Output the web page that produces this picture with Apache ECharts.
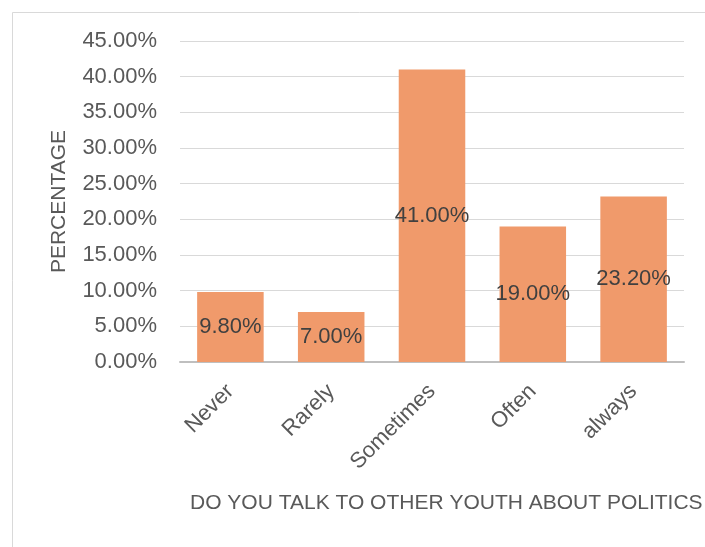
<!DOCTYPE html>
<html>
<head>
<meta charset="utf-8">
<script src="https://cdn.jsdelivr.net/npm/echarts@6/dist/echarts.min.js"></script>
<style>
html,body{margin:0;padding:0;background:#fff;}
#chart{width:705px;height:547px;}
</style>
</head>
<body>
<div id="chart"></div>
<script>
// Responses to "Do you talk to other youth about politics"
const categories = ['Never', 'Rarely', 'Sometimes', 'Often', 'always'];
const percentages = [9.8, 7.0, 41.0, 19.0, 23.2];
const yTicks = [0, 5, 10, 15, 20, 25, 30, 35, 40, 45];

const chart = echarts.init(document.getElementById('chart'));
const FONT = 'Liberation Sans';

chart.setOption({
  animation: false,
  backgroundColor: '#ffffff',
  textStyle: { fontFamily: FONT },
  graphic: [
    {
      type: 'rect',
      shape: { x: 12.5, y: 12.5, width: 720, height: 560 },
      style: { fill: 'none', stroke: '#d9d9d9', lineWidth: 1 }
    },
    {
      type: 'text',
      left: 190,
      top: 493,
      style: {
        text: 'DO YOU TALK TO OTHER YOUTH ABOUT POLITICS',
        fill: '#595959',
        font: '21px "Liberation Sans"'
      }
    }
  ],
  grid: { left: 180, right: 21, top: 41, bottom: 185, containLabel: false },
  xAxis: {
    type: 'category',
    data: categories,
    axisTick: { show: false },
    axisLine: { lineStyle: { color: '#bfbfbf', width: 2 } },
    axisLabel: {
      rotate: 45,
      color: '#595959',
      fontSize: 22,
      fontFamily: FONT,
      margin: 26,
      interval: 0
    }
  },
  yAxis: {
    type: 'value',
    min: yTicks[0],
    max: yTicks[yTicks.length - 1],
    interval: 5,
    name: 'PERCENTAGE',
    nameLocation: 'middle',
    nameGap: 110,
    nameTextStyle: { color: '#595959', fontSize: 21, fontFamily: FONT },
    axisLine: { show: false },
    axisTick: { show: false },
    splitLine: { lineStyle: { color: '#d9d9d9', width: 1 } },
    axisLabel: {
      color: '#595959',
      fontSize: 22,
      fontFamily: FONT,
      margin: 23,
      formatter: v => v.toFixed(2) + '%'
    }
  },
  series: [{
    type: 'bar',
    data: percentages,
    barCategoryGap: '34%',
    itemStyle: { color: '#f09a6b' },
    label: {
      show: true,
      position: 'inside',
      color: '#404040',
      fontSize: 22,
      fontFamily: FONT,
      formatter: p => p.value.toFixed(2) + '%'
    }
  }]
});
</script>
</body>
</html>
